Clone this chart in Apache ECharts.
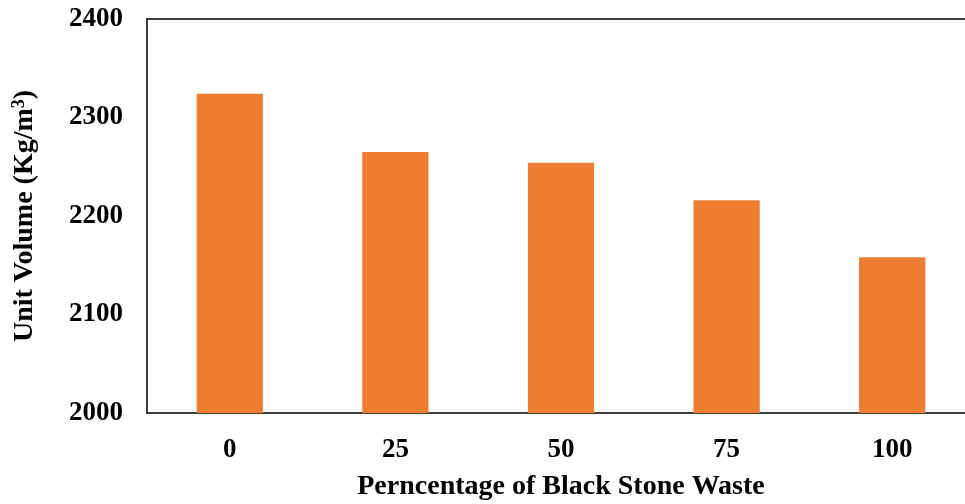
<!DOCTYPE html>
<html><head><meta charset="utf-8">
<script src="https://cdn.jsdelivr.net/npm/echarts@6/dist/echarts.min.js"></script>
<style>html,body{margin:0;padding:0;background:#fff}#c{width:965px;height:504px}</style>
</head><body><div id="c"></div>
<script>
const categories = ['0', '25', '50', '75', '100'];
const unitVolume = [2324, 2265, 2254, 2216, 2158];
const yTicks = [2000, 2100, 2200, 2300, 2400];

const font = 'Liberation Serif, Times New Roman, serif';
const chart = echarts.init(document.getElementById('c'));
chart.setOption({
  animation: false,
  grid: { left: 147, right: -10, top: 19, bottom: 91, containLabel: false, outerBoundsMode: 'none' },
  xAxis: [{
    type: 'category', data: categories,
    axisLine: { lineStyle: { color: '#000', width: 1.5 } },
    axisTick: { show: false },
    axisLabel: { color: '#000', fontFamily: font, fontWeight: 'bold', fontSize: 27, margin: 24 },
    name: 'Perncentage of Black Stone Waste', nameLocation: 'middle', nameGap: 60,
    nameTextStyle: { color: '#000', fontFamily: font, fontWeight: 'bold', fontSize: 28 }
  }, {
    type: 'category', data: categories, position: 'top',
    axisLine: { lineStyle: { color: '#000', width: 1.5 } },
    axisTick: { show: false }, axisLabel: { show: false }
  }],
  yAxis: {
    type: 'value', min: yTicks[0], max: yTicks[yTicks.length - 1], interval: 100,
    axisLine: { show: true, lineStyle: { color: '#000', width: 1.5 } },
    axisTick: { show: false },
    splitLine: { show: false },
    axisLabel: { color: '#000', fontFamily: font, fontWeight: 'bold', fontSize: 27, margin: 24, formatter: v => String(v) },
    name: '{a|Unit Volume (Kg/m}{s|3}{a|)}', nameLocation: 'middle', nameGap: 107,
    nameTextStyle: {
      rich: {
        a: { color: '#000', fontFamily: font, fontWeight: 'bold', fontSize: 28 },
        s: { color: '#000', fontFamily: font, fontWeight: 'bold', fontSize: 18, verticalAlign: 'top', padding: [0, 0, 12, 0] }
      }
    }
  },
  series: [{
    type: 'bar', data: unitVolume, barWidth: '40%',
    itemStyle: { color: '#ED7D31' }
  }]
});
</script></body></html>
